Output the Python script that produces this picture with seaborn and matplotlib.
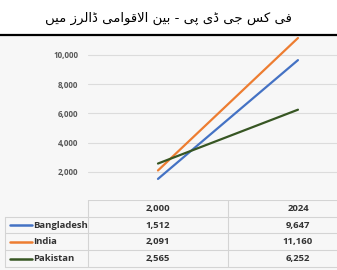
import pandas as pd
import seaborn as sns
import matplotlib.pyplot as plt
from matplotlib.lines import Line2D

years = ["2,000", "2024"]
countries = ["Bangladesh", "India", "Pakistan"]
bangladesh = [1512, 9647]
india = [2091, 11160]
pakistan = [2565, 6252]
value_labels = [["1,512", "9,647"], ["2,091", "11,160"], ["2,565", "6,252"]]
yticks = [2000, 4000, 6000, 8000, 10000]
ytick_labels = ["2,000", "4,000", "6,000", "8,000", "10,000"]
colors = ["#4472C4", "#ED7D31", "#375623"]
title = "فی کس جی ڈی پی - بین الاقوامی ڈالرز میں"

# presentation forms: isolated, final, initial, medial
FORMS = {
    "ف": "\uFED1\uFED2\uFED3\uFED4", "ی": "\uFBFC\uFBFD\uFEF3\uFEF4",
    "ک": "\uFB8E\uFB8F\uFB90\uFB91", "س": "\uFEB1\uFEB2\uFEB3\uFEB4",
    "ج": "\uFE9D\uFE9E\uFE9F\uFEA0", "ڈ": "\uFB88\uFB89",
    "پ": "\uFB56\uFB57\uFB58\uFB59", "ب": "\uFE8F\uFE90\uFE91\uFE92",
    "ن": "\uFEE5\uFEE6\uFEE7\uFEE8", "ا": "\uFE8D\uFE8E",
    "ل": "\uFEDD\uFEDE\uFEDF\uFEE0", "ق": "\uFED5\uFED6\uFED7\uFED8",
    "و": "\uFEED\uFEEE", "م": "\uFEE1\uFEE2\uFEE3\uFEE4",
    "ر": "\uFEAD\uFEAE", "ز": "\uFEAF\uFEB0", "ں": "\uFB9E\uFB9F",
}


def shape(text):
    chars = list(text)
    out = []
    i = 0
    while i < len(chars):
        c = chars[i]
        if c not in FORMS:
            out.append(c)
            i += 1
            continue
        prev = chars[i - 1] if i > 0 else None
        join_prev = prev in FORMS and len(FORMS[prev]) == 4
        if c == "ل" and i + 1 < len(chars) and chars[i + 1] == "ا":
            out.append("\uFEFC" if join_prev else "\uFEFB")
            i += 2
            continue
        nxt = chars[i + 1] if i + 1 < len(chars) else None
        join_next = len(FORMS[c]) == 4 and nxt in FORMS
        f = FORMS[c]
        if join_prev and join_next:
            out.append(f[3])
        elif join_prev:
            out.append(f[1])
        elif join_next:
            out.append(f[2])
        else:
            out.append(f[0])
        i += 1
    return "".join(out)[::-1]


df = pd.DataFrame({
    "year": years * 3,
    "country": [c for c in countries for _ in years],
    "gdp": bangladesh + india + pakistan,
})

sns.set_theme(style="white")
plt.rcParams["font.family"] = ["Open Sans", "DejaVu Sans"]

W, H = 337, 270
fig = plt.figure(figsize=(W / 100, H / 100), dpi=100)
fig.patch.set_facecolor("white")

bg = fig.add_axes([0, 0, 1, 1 - 36 / H])
bg.set_facecolor("#f7f7f7")
bg.axis("off")
bg.add_patch(plt.Rectangle((0, 0), 1, 1, color="#f7f7f7", transform=bg.transAxes))

fig.add_artist(Line2D([0, 1], [1 - 35 / H, 1 - 35 / H], color="black", lw=1.6))
fig.text(0.5, 1 - 18 / H, shape(title), ha="center", va="center", fontsize=9.5,
         color="black", family="DejaVu Sans")

ax = fig.add_axes([88 / W, 1 - 201 / H, (W - 88) / W, (201 - 37) / H])
ax.set_facecolor("none")
sns.lineplot(data=df, x="year", y="gdp", hue="country", palette=colors,
             linewidth=1.6, legend=False, ax=ax)
ax.set_xlim(-0.5, 1.279)
ax.set_ylim(0, 11230)
ax.set_yticks(yticks)
ax.set_yticklabels(ytick_labels)
ax.grid(axis="y", color="#dcdcdc", linewidth=0.8)
ax.set_xticks([])
ax.set_xlabel("")
ax.set_ylabel("")
for s in ax.spines.values():
    s.set_visible(False)
ax.tick_params(axis="y", length=0, pad=7, labelsize=5.8, labelcolor="#595959")
for t in ax.get_yticklabels():
    t.set_fontweight("bold")

# data table under the chart
tab = fig.add_axes([0, 0, 1, 1 - 200 / H])
tab.set_xlim(0, W)
tab.set_ylim(4.18, 0)
tab.axis("off")
ec = "#d4d4d4"
tab.plot([88, W], [0, 0], color=ec, lw=0.8)
for r in range(1, 5):
    tab.plot([5, W], [r, r], color=ec, lw=0.8)
tab.plot([5, 5], [1, 4], color=ec, lw=0.8)
for x in [88, 228]:
    tab.plot([x, x], [0, 4], color=ec, lw=0.8)
col_x = [158, 298]
for j, yr in enumerate(years):
    tab.text(col_x[j], 0.5, yr, ha="center", va="center", fontsize=6.8,
             fontweight="bold", color="#333333")
for i, c in enumerate(countries):
    tab.plot([10, 32], [i + 1.5, i + 1.5], color=colors[i], lw=1.8)
    tab.text(33, i + 1.5, c, ha="left", va="center", fontsize=6.8,
             fontweight="bold", color="#333333")
    for j in range(2):
        tab.text(col_x[j], i + 1.5, value_labels[i][j], ha="center", va="center",
                 fontsize=6.8, fontweight="bold", color="#333333")

fig.savefig("out.png", dpi=100)
